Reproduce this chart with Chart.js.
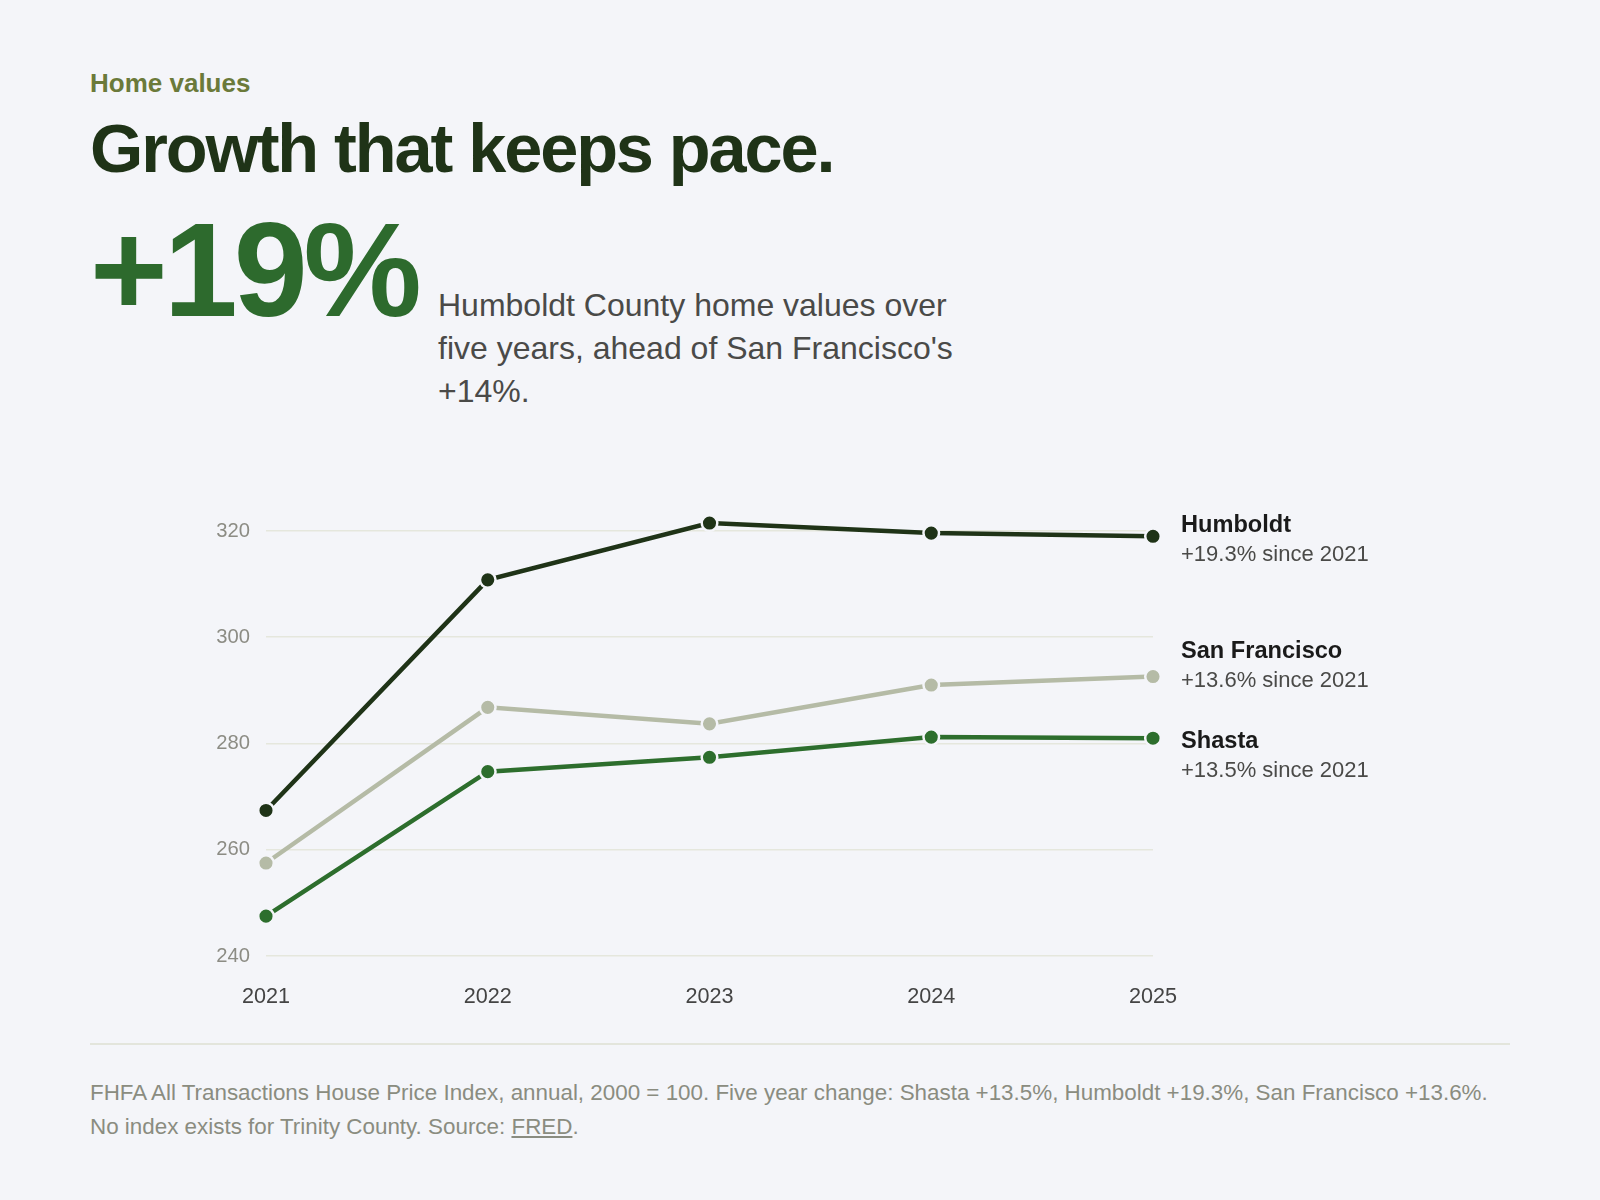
<!DOCTYPE html>
<html>
<head>
<meta charset="utf-8">
<script src="https://cdn.jsdelivr.net/npm/chart.js@4"></script>
<style>
  html, body { margin: 0; padding: 0; }
  body {
    width: 1600px; height: 1200px; position: relative; overflow: hidden;
    background: #f4f5f9;
    font-family: "Liberation Sans", Arial, Helvetica, sans-serif;
  }
  .kicker {
    position: absolute; left: 90px; top: 68px;
    font-size: 26px; font-weight: bold; color: #6b7a3a; line-height: 1.2;
  }
  .title {
    position: absolute; left: 90px; top: 111px; margin: 0;
    font-size: 68.5px; font-weight: bold; color: #1f3317; line-height: 1.1;
    letter-spacing: -2.1px;
  }
  .hero {
    position: absolute; left: 90px; top: 204px;
    display: flex; align-items: baseline;
  }
  .big {
    flex: none; width: 348px;
    font-size: 133px; font-weight: bold; color: #2d6a2d; line-height: 1;
    letter-spacing: -4px;
  }
  .desc {
    font-size: 32px; color: #4a4a48; line-height: 43px; width: 540px;
  }
  .chart-box {
    position: absolute; left: 90px; top: 471px; width: 1420px; height: 560px;
  }
  .rule {
    position: absolute; left: 90px; top: 1043px; width: 1420px; height: 2px;
    background: #e3e5dc;
  }
  .foot {
    position: absolute; left: 90px; top: 1076px; width: 1420px;
    font-size: 22.4px; line-height: 34px; color: #8a8c80;
  }
  .foot a { color: #8a8c80; }
</style>
</head>
<body>
  <div class="kicker">Home values</div>
  <h1 class="title">Growth that keeps pace.</h1>
  <div class="hero">
    <div class="big">+19%</div>
    <div class="desc">Humboldt County home values over five years, ahead of San Francisco's +14%.</div>
  </div>
  <div class="chart-box"><canvas id="myChart"></canvas></div>
  <div class="rule"></div>
  <div class="foot">FHFA All Transactions House Price Index, annual, 2000 = 100. Five year change: Shasta +13.5%, Humboldt +19.3%, San Francisco +13.6%.<br>No index exists for Trinity County. Source: <a href="#">FRED</a>.</div>

<script>
const years = ["2021", "2022", "2023", "2024", "2025"];
const seriesNames = ["Humboldt", "San Francisco", "Shasta"];
const humboldt = [267.4, 310.8, 321.5, 319.6, 319.0];
const sanFrancisco = [257.5, 286.8, 283.7, 291.0, 292.6];
const shasta = [247.5, 274.7, 277.4, 281.2, 281.0];
const changeLabels = ["+19.3% since 2021", "+13.6% since 2021", "+13.5% since 2021"];
const yTicks = [240, 260, 280, 300, 320];

const colors = ["#1f3317", "#b5bba6", "#2d6e2d"];
const bg = "#f4f5f9";
const font = '"Liberation Sans", Arial, Helvetica, sans-serif';

// end labels next to the last point, nudged apart when they collide
const endLabels = {
  id: "endLabels",
  afterDatasetsDraw(chart) {
    const ctx = chart.ctx;
    const x = chart.chartArea.right + 28;
    const items = chart.data.datasets.map((ds, i) => {
      const meta = chart.getDatasetMeta(i);
      const pt = meta.data[meta.data.length - 1];
      return { i, y: pt.y - 10.5 };
    });
    items.sort((a, b) => a.y - b.y);
    const gap = 90;
    for (let pass = 0; pass < 10; pass++) {
      for (let k = 1; k < items.length; k++) {
        const d = items[k].y - items[k - 1].y;
        if (d < gap) {
          const o = (gap - d) / 2;
          items[k - 1].y -= o;
          items[k].y += o;
        }
      }
    }
    ctx.save();
    ctx.textAlign = "left";
    ctx.textBaseline = "middle";
    items.forEach(it => {
      ctx.font = "bold 23.6px " + font;
      ctx.fillStyle = "#1a1a1a";
      ctx.fillText(seriesNames[it.i], x, it.y);
      ctx.font = "22px " + font;
      ctx.fillStyle = "#4a4a48";
      ctx.fillText(changeLabels[it.i], x, it.y + 29.2);
    });
    ctx.restore();
  }
};

function loadChart() {
  const data = {
    labels: years,
    datasets: [humboldt, sanFrancisco, shasta].map((vals, i) => ({
      label: seriesNames[i],
      data: vals,
      borderColor: colors[i],
      backgroundColor: colors[i],
      borderWidth: 4.5,
      pointRadius: 7.8,
      pointBackgroundColor: colors[i],
      pointBorderColor: bg,
      pointBorderWidth: 2.5,
      tension: 0,
    })),
  };

  const config = {
    type: "line",
    data: data,
    plugins: [endLabels],
    options: {
      responsive: true,
      maintainAspectRatio: false,
      animation: false,
      layout: { padding: { top: 28, right: 357, left: 0, bottom: 0 } },
      plugins: { legend: { display: false }, tooltip: { enabled: false } },
      scales: {
        x: {
          offset: false,
          grid: { display: false, drawTicks: false },
          border: { display: false },
          ticks: { color: "#444444", font: { family: font, size: 21.6 }, padding: 28 },
          afterFit(scale) { scale.height = 75; },
        },
        y: {
          min: 240,
          max: 326,
          afterBuildTicks(scale) { scale.ticks = yTicks.map(v => ({ value: v })); },
          afterFit(scale) { scale.width = 176; },
          grid: { color: "#e5e7dd", lineWidth: 1.5, drawTicks: false },
          border: { display: false },
          ticks: { color: "#8c8c84", font: { family: font, size: 20.2 }, padding: 16 },
        },
      },
    },
  };

  const ctx = document.getElementById("myChart").getContext("2d");
  new Chart(ctx, config);
}

loadChart();
</script>
</body>
</html>
